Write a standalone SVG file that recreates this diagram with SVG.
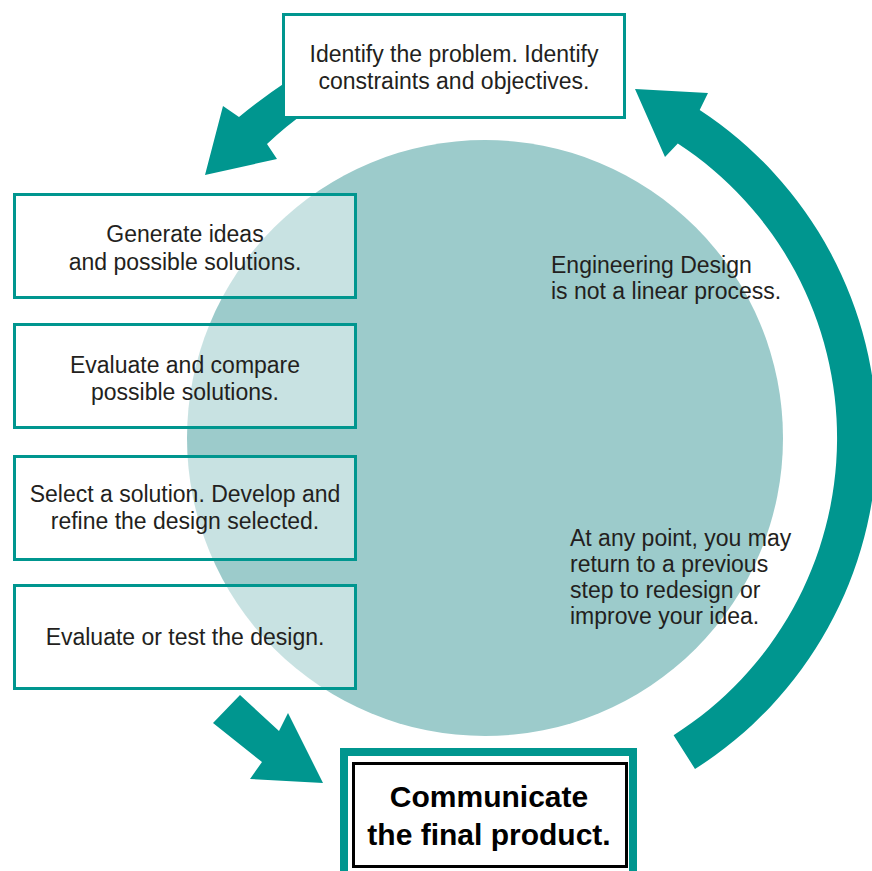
<svg xmlns="http://www.w3.org/2000/svg" width="872" height="871" viewBox="0 0 872 871">
  <style>
    .box { fill: #ffffff; stroke: #00968f; stroke-width: 3; }
    .sbox { fill: #ffffff; fill-opacity: 0.45; stroke: #00968f; stroke-width: 3; }
    .arrow { fill: #00968f; stroke: none; }
    .t { font-family: "Liberation Sans", Arial, sans-serif; font-size: 23px; fill: #231f20; }
    .c { text-anchor: middle; }
    .b { font-family: "Liberation Sans", Arial, sans-serif; font-size: 30px; font-weight: bold; fill: #000000; text-anchor: middle; }
  </style>
  <rect width="872" height="871" fill="#ffffff"/>

  <g id="background">
    <circle cx="485" cy="438" r="298" fill="#9ccbcb"/>
    <text class="t" x="551" y="273">Engineering Design</text>
    <text class="t" x="551" y="299">is not a linear process.</text>
    <text class="t" x="570" y="546">At any point, you may</text>
    <text class="t" x="570" y="572">return to a previous</text>
    <text class="t" x="570" y="598">step to redesign or</text>
    <text class="t" x="570" y="624">improve your idea.</text>
  </g>

  <g id="connectors">
    <path class="arrow" d="M205,175 L223,106 L239,117 Q262,98 292,78 L306,112 Q286,126 267,144 L277,159 Z"/>
    <path class="arrow" d="M240,695 L213,723 L262,762 L250,779 L323,783 L288,713 L279,731 Z"/>
    <path class="arrow" d="M699.7,110 A392,392 0 0 1 695,769 L673.6,735.2 A352,352 0 0 0 677.8,143.4 L665,157 L635,89 L708,93 Z"/>
  </g>

  <g id="identify">
    <rect class="box" x="283.5" y="14.5" width="341" height="103"/>
    <text class="t c" x="454" y="62">Identify the problem. Identify</text>
    <text class="t c" x="454" y="89">constraints and objectives.</text>
  </g>

  <g id="generate">
    <rect class="sbox" x="14.5" y="194.5" width="341" height="103"/>
    <text class="t c" x="185" y="242">Generate ideas</text>
    <text class="t c" x="185" y="270">and possible solutions.</text>
  </g>

  <g id="evaluate-compare">
    <rect class="sbox" x="14.5" y="324.5" width="341" height="103"/>
    <text class="t c" x="185" y="373">Evaluate and compare</text>
    <text class="t c" x="185" y="400">possible solutions.</text>
  </g>

  <g id="select">
    <rect class="sbox" x="14.5" y="456.5" width="341" height="103"/>
    <text class="t c" x="185" y="502">Select a solution. Develop and</text>
    <text class="t c" x="185" y="529">refine the design selected.</text>
  </g>

  <g id="test">
    <rect class="sbox" x="14.5" y="585.5" width="341" height="103"/>
    <text class="t c" x="185" y="645">Evaluate or test the design.</text>
  </g>

  <g id="communicate">
    <rect x="344" y="752" width="289" height="130" fill="#ffffff" stroke="#00968f" stroke-width="8"/>
    <rect x="353.5" y="763.5" width="273" height="103" fill="#ffffff" stroke="#000000" stroke-width="3"/>
    <text class="b" x="489" y="807">Communicate</text>
    <text class="b" x="489" y="845">the final product.</text>
  </g>
</svg>
